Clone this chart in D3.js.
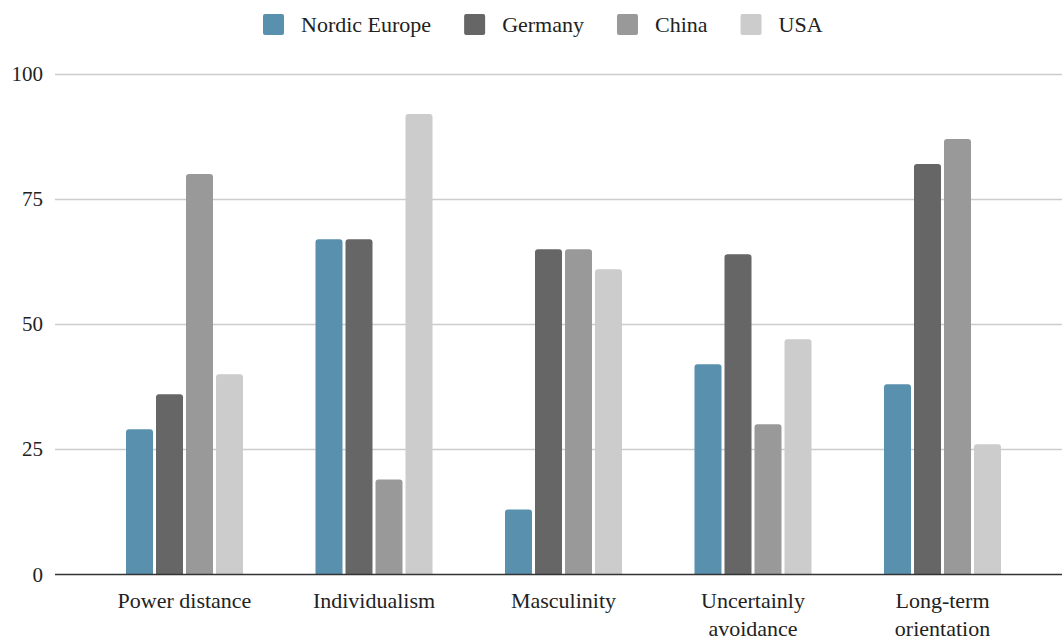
<!DOCTYPE html>
<html>
<head>
<meta charset="utf-8">
<script src="https://cdn.jsdelivr.net/npm/d3@7"></script>
</head>
<body style="margin:0">
<svg id="chart" width="1062" height="640"></svg>
<script>
// Hofstede cultural dimension scores by region
const dimensions = [["Power distance"], ["Individualism"], ["Masculinity"], ["Uncertainly", "avoidance"], ["Long-term", "orientation"]];
const series = ["Nordic Europe", "Germany", "China", "USA"];
const nordicEurope = [29, 67, 13, 42, 38];
const germany = [36, 67, 65, 64, 82];
const china = [80, 19, 65, 30, 87];
const usa = [40, 92, 61, 47, 26];
const yTicks = [0, 25, 50, 75, 100];
const colors = ["#5990ae", "#666666", "#999999", "#cccccc"];

const values = [nordicEurope, germany, china, usa];
const svg = d3.select("#chart");
const FONT = '"Liberation Serif"';
const plotLeft = 55, plotRight = 1062, yTop = 74, yBottom = 574.5;

const y = d3.scaleLinear().domain([0, 100]).range([yBottom, yTop]);
const x0 = d3.scaleBand().domain(d3.range(dimensions.length)).range([89.75, 1037.25]).padding(0);
const x1 = d3.scaleBand().domain(series).range([0, 117]).paddingInner(0.1).paddingOuter(0);

// gridlines + tick labels
const yAxis = svg.append("g");
yTicks.forEach(t => {
  if (t !== 0) {
    yAxis.append("line")
      .attr("x1", plotLeft).attr("x2", plotRight)
      .attr("y1", Math.round(y(t)) + 0.5).attr("y2", Math.round(y(t)) + 0.5)
      .attr("stroke", "#cccccc").attr("stroke-width", 1.3);
  }
  yAxis.append("text")
    .attr("x", 43).attr("y", y(t) + 7)
    .attr("text-anchor", "end")
    .style("font-family", FONT)
    .attr("font-size", 21).attr("fill", "#222")
    .text(t);
});

// bars with rounded top corners
function barPath(x, w, top, bottom, r) {
  r = Math.min(r, (bottom - top), w / 2);
  return `M${x},${bottom}V${top + r}Q${x},${top} ${x + r},${top}H${x + w - r}Q${x + w},${top} ${x + w},${top + r}V${bottom}Z`;
}

const groups = svg.append("g").selectAll("g")
  .data(dimensions.map((d, i) => i))
  .join("g")
  .attr("transform", i => `translate(${x0(i) + (x0.bandwidth() - 117) / 2},0)`);

groups.selectAll("path")
  .data(i => series.map((s, k) => ({ s, k, v: values[k][i] })))
  .join("path")
  .attr("d", d => barPath(x1(d.s), x1.bandwidth(), y(d.v), yBottom, 3))
  .attr("fill", d => colors[d.k]);

// baseline
svg.append("line")
  .attr("x1", plotLeft).attr("x2", plotRight)
  .attr("y1", yBottom).attr("y2", yBottom)
  .attr("stroke", "#333").attr("stroke-width", 1.6);

// category labels
const cat = svg.append("g");
dimensions.forEach((lines, i) => {
  const cx = x0(i) + x0.bandwidth() / 2;
  lines.forEach((ln, j) => {
    cat.append("text")
      .attr("x", cx).attr("y", 608 + j * 28)
      .attr("text-anchor", "middle")
      .style("font-family", FONT)
      .attr("font-size", 22).attr("fill", "#222")
      .text(ln);
  });
});

// legend
const legend = svg.append("g");
let lx = 263;
series.forEach((s, k) => {
  legend.append("rect")
    .attr("x", lx).attr("y", 14).attr("width", 21).attr("height", 21)
    .attr("rx", 2).attr("fill", colors[k]);
  const txt = legend.append("text")
    .attr("x", lx + 38).attr("y", 32)
    .style("font-family", FONT)
    .attr("font-size", 22).attr("fill", "#222")
    .text(s);
  lx = lx + 38 + txt.node().getComputedTextLength() + 33;
});
</script>
</body>
</html>
